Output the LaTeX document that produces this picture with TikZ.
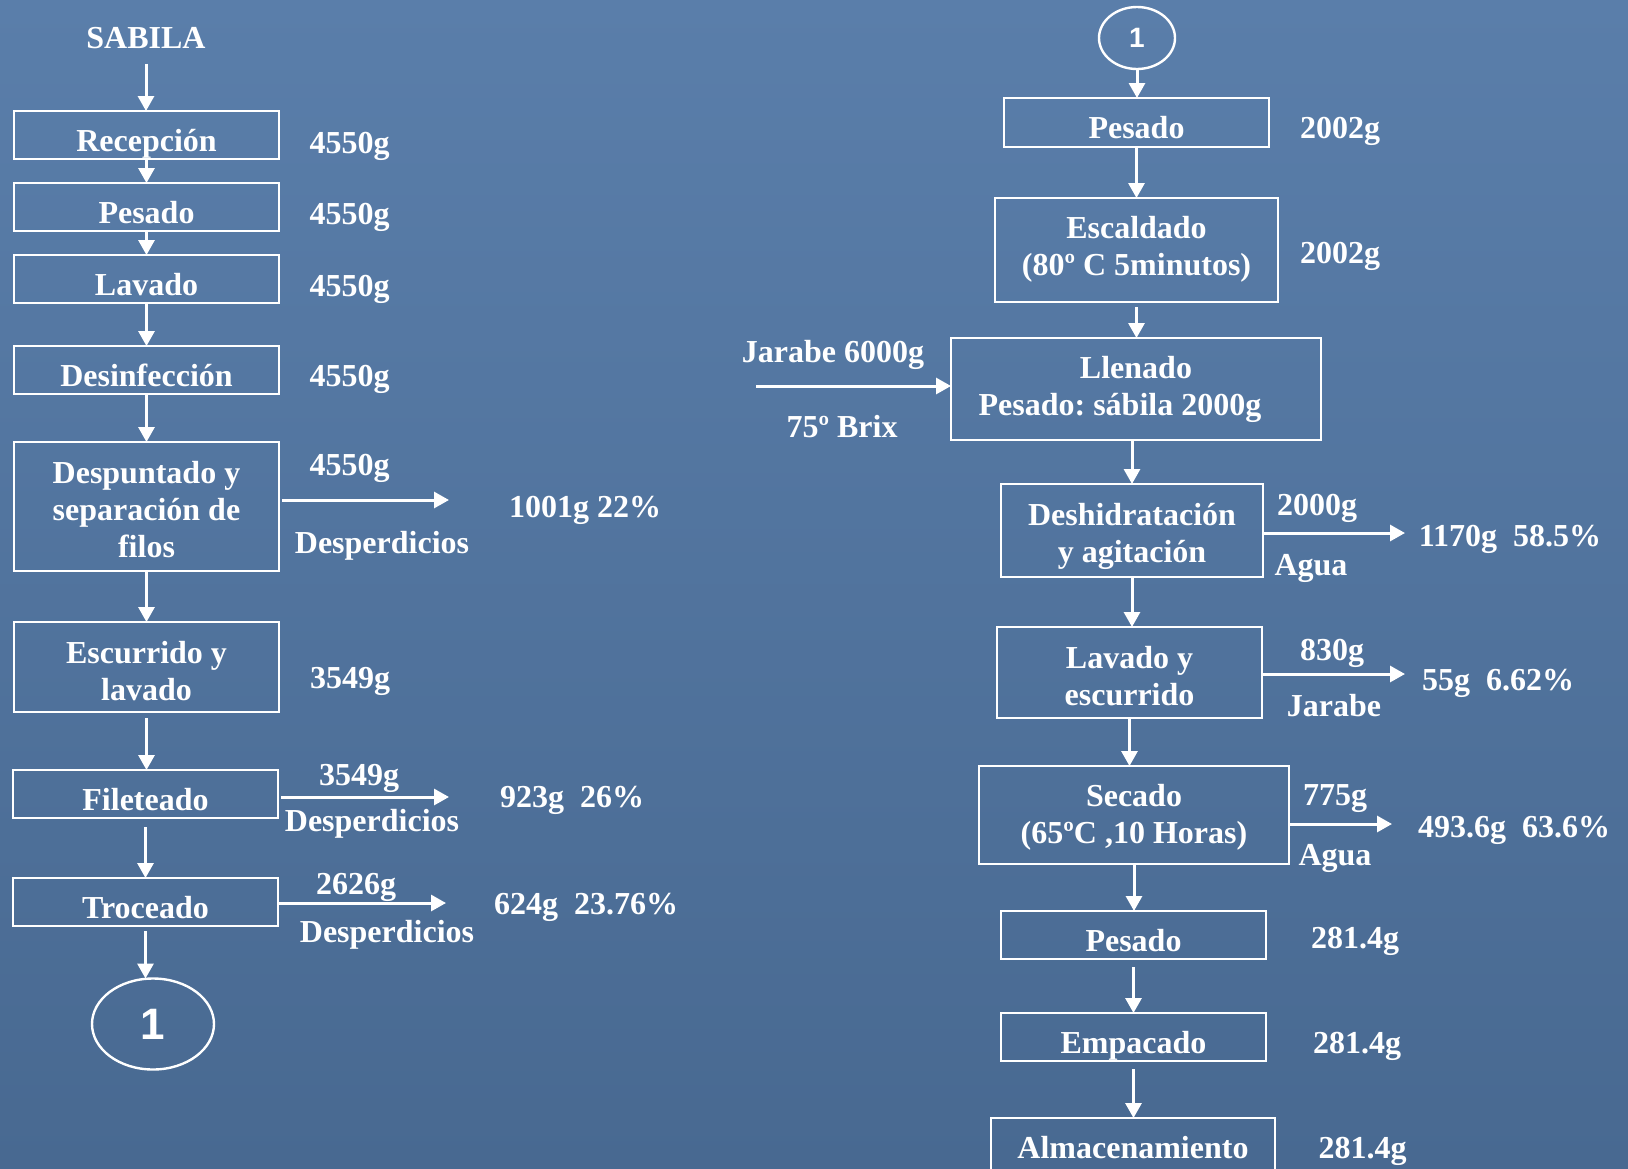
\documentclass[tikz,border=0pt]{standalone}
\usepackage{fontspec}
\setmainfont{Liberation Serif}
\newfontfamily\sansfnt{Liberation Sans}
\usetikzlibrary{arrows.meta,shapes.geometric}
\definecolor{bgtop}{RGB}{90,126,170}
\definecolor{bgmid}{RGB}{84,119,161}
\definecolor{bgbot}{RGB}{72,105,145}
\newcommand\diagfont{\fontsize{16}{18.5}\selectfont\bfseries\frenchspacing}
\begin{document}
\begin{tikzpicture}[x=0.5pt,y=-0.5pt,
  box/.style={draw=white, line width=1.2pt, text=white, font=\diagfont, align=center, inner sep=0pt, outer sep=0pt},
  one/.style={text height=16.5pt, text depth=0.5pt},
  lbl/.style={text=white, font=\diagfont, inner sep=0pt, anchor=base},
  arr/.style={draw=white, line width=1.5pt, -{Triangle[length=7.5pt,width=8pt]}},
  conn/.style={draw=white, line width=1.2pt, ellipse, inner sep=0pt, outer sep=0pt, text=white}
]
\useasboundingbox (0,0) rectangle (1628,1168);
\shade[top color=bgtop, middle color=bgmid, bottom color=bgbot] (0,0) rectangle (1628,1168);
\clip (0,0) rectangle (1628,1168);

% ---------- left column ----------
\node[lbl] (sab) at (146,48) {SABILA};
\node[box, one, minimum width=132.5pt, minimum height=24pt] (rec) at (146.5,135) {Recepción};
\node[box, one, minimum width=132.5pt, minimum height=24pt] (pes) at (146.5,207) {Pesado};
\node[box, one, minimum width=132.5pt, minimum height=24pt] (lav) at (146.5,279) {Lavado};
\node[box, one, minimum width=132.5pt, minimum height=24pt] (des) at (146.5,370) {Desinfección};
\node[box, text height=51pt, text depth=0.5pt, minimum width=132.5pt, minimum height=64.5pt] (desp) at (146.5,506.5) {Despuntado y\\separación de\\filos};
\node[box, text height=33.5pt, text depth=0.5pt, minimum width=132.5pt, minimum height=45pt] (esc) at (146.5,667) {Escurrido y\\lavado};
\node[box, one, minimum width=132.75pt, minimum height=24pt] (fil) at (145.5,794) {Fileteado};
\node[box, one, minimum width=132.75pt, minimum height=24pt] (tro) at (145.5,902) {Troceado};
\node[conn, minimum width=61pt, minimum height=45.5pt, font=\sansfnt\bfseries\fontsize{22}{22}\selectfont] (c1) at (153,1024) {1};

\node[lbl] (w1) at (349.5,153) {4550g};
\node[lbl] (w2) at (349.5,224.5) {4550g};
\node[lbl] (w3) at (349.5,296) {4550g};
\node[lbl] (w4) at (349.5,386) {4550g};
\node[lbl] (w5) at (349.5,475) {4550g};
\node[lbl] (d1) at (382,553) {Desperdicios};
\node[lbl] (o1) at (585,517) {1001g 22\%};
\node[lbl] (w6) at (350,688) {3549g};
\node[lbl] (w7) at (359,785) {3549g};
\node[lbl] (d2) at (372,831) {Desperdicios};
\node[lbl] (o2) at (572,807) {923g\ \ 26\%};
\node[lbl] (w8) at (356,894) {2626g};
\node[lbl] (d3) at (387,942) {Desperdicios};
\node[lbl] (o3) at (586,914) {624g\ \ 23.76\%};

\coordinate (e1) at (449,500);
\coordinate (e2) at (449,797);
\coordinate (e3) at (446,903);

\draw[arr, shorten <=7.5pt] (sab.south) -- (sab.south |- rec.north);
\draw[arr] (rec.south) -- (rec.south |- pes.north);
\draw[arr] (pes.south) -- (pes.south |- lav.north);
\draw[arr] (lav.south) -- (lav.south |- des.north);
\draw[arr] (des.south) -- (des.south |- desp.north);
\draw[arr] (desp.south) -- (desp.south |- esc.north);
\draw[arr, shorten <=3pt] (esc.south) -- (esc.south |- fil.north);
\draw[arr, shorten <=4.5pt] (fil.south) -- (fil.south |- tro.north);
\draw[arr, shorten <=2.5pt] (tro.south) -- (tro.south |- c1.north);
\draw[arr, shorten <=1.5pt] (desp.east |- e1) -- (e1);
\draw[arr, shorten <=1.5pt] (fil.east |- e2) -- (e2);
\draw[arr] (tro.east |- e3) -- (e3);

% ---------- right column ----------
\node[conn, minimum width=38pt, minimum height=31pt, font=\sansfnt\bfseries\fontsize{14}{14}\selectfont] (c2) at (1137,38) {1};
\node[box, one, minimum width=132.5pt, minimum height=24.5pt] (rpes) at (1136.5,122.5) {Pesado};
\node[box, text height=26pt, text depth=1pt, minimum width=141.5pt, minimum height=52pt] (escal) at (1136.5,250) {Escaldado\\(80º C 5minutos)};
\node[box, text height=27pt, text depth=1pt, minimum width=185pt, minimum height=51pt] (llen) at (1136,389) {Llenado\\Pesado: sábila 2000g\hspace*{16pt}};
\node[box, text height=32.5pt, text depth=0.5pt, minimum width=130.75pt, minimum height=46.5pt] (desh) at (1132,530.5) {Deshidratación\\y agitación};
\node[box, text height=33pt, text depth=0.5pt, minimum width=132.5pt, minimum height=45.5pt] (lavy) at (1129.5,672.5) {Lavado y\\escurrido};
\node[box, text height=28.5pt, text depth=0.5pt, minimum width=155pt, minimum height=49pt] (sec) at (1134,815) {Secado\\(65ºC ,10 Horas)};
\node[box, one, minimum width=132.5pt, minimum height=24pt] (rpes2) at (1133.5,935) {Pesado};
\node[box, one, minimum width=132.5pt, minimum height=24pt] (emp) at (1133.5,1037) {Empacado};
\node[box, text height=12.5pt, text depth=0.5pt, minimum width=142pt, minimum height=28pt] (alm) at (1133,1146) {Almacenamiento};

\node[lbl] (r1) at (1340,138) {2002g};
\node[lbl] (r2) at (1340,263) {2002g};
\node[lbl] (jar) at (833,362) {Jarabe 6000g};
\node[lbl] (brix) at (842,437) {75º Brix};
\node[lbl] (r3) at (1317,515) {2000g};
\node[lbl] (ag1) at (1311,575) {Agua};
\node[lbl] (o4) at (1510,546) {1170g\ \ 58.5\%};
\node[lbl] (r4) at (1332,660) {830g};
\node[lbl] (jb) at (1334,716) {Jarabe};
\node[lbl] (o5) at (1498,690) {55g\ \ 6.62\%};
\node[lbl] (r5) at (1335,805) {775g};
\node[lbl] (ag2) at (1335,865) {Agua};
\node[lbl] (o6) at (1514,837) {493.6g\ \ 63.6\%};
\node[lbl] (r6) at (1355,948) {281.4g};
\node[lbl] (r7) at (1357,1053) {281.4g};
\node[lbl] (r8) at (1362.5,1158) {281.4g};

\coordinate (j0) at (756,386);
\coordinate (e4) at (1405,533);
\coordinate (e5) at (1405,674);
\coordinate (e6) at (1392,824);

\draw[arr] (c2.south) -- (c2.south |- rpes.north);
\draw[arr] (rpes.south) -- (rpes.south |- escal.north);
\draw[arr, shorten <=2.5pt] (escal.south) -- (escal.south |- llen.north);
\draw[arr] (desh.north |- llen.south) -- (desh.north);
\draw[arr] (desh.south) -- (desh.south |- lavy.north);
\draw[arr] (lavy.south) -- (lavy.south |- sec.north);
\draw[arr] (sec.south) -- (sec.south |- rpes2.north);
\draw[arr, shorten <=4pt] (rpes2.south) -- (rpes2.south |- emp.north);
\draw[arr, shorten <=4pt] (emp.south) -- (emp.south |- alm.north);
\draw[arr] (j0) -- (j0 -| llen.west);
\draw[arr] (desh.east |- e4) -- (e4);
\draw[arr] (lavy.east |- e5) -- (e5);
\draw[arr] (sec.east |- e6) -- (e6);
\end{tikzpicture}
\end{document}
